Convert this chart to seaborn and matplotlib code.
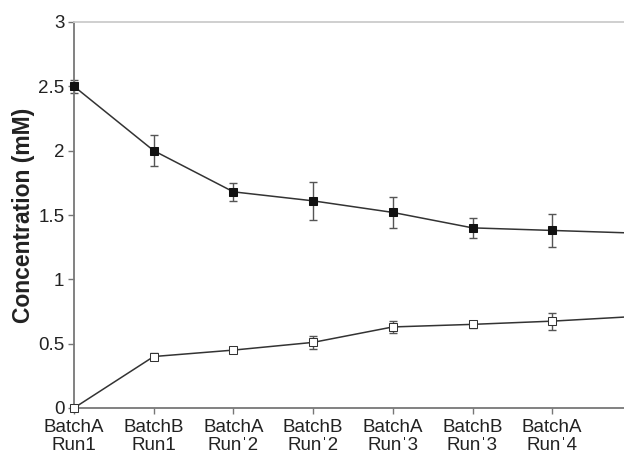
import numpy as np
import pandas as pd
import matplotlib
matplotlib.use("Agg")
import matplotlib.pyplot as plt
import seaborn as sns

# values (mM)
runs = ["BatchA\nRun1", "BatchB\nRun1", "BatchA\nRunˈ2", "BatchB\nRunˈ2",
        "BatchA\nRunˈ3", "BatchB\nRunˈ3", "BatchA\nRunˈ4", "BatchB\nRunˈ4"]
upper = [2.50, 2.00, 1.68, 1.61, 1.52, 1.40, 1.38, 1.36]
upper_err = [0.05, 0.12, 0.07, 0.15, 0.12, 0.08, 0.125, 0.10]
lower = [0.00, 0.40, 0.45, 0.51, 0.63, 0.65, 0.675, 0.71]
lower_err = [0.0, 0.03, 0.015, 0.05, 0.05, 0.03, 0.065, 0.05]

sns.set_style("white")
plt.rcParams['font.family'] = ['Liberation Sans', 'DejaVu Sans']

df = pd.DataFrame({"pos": np.arange(len(runs)), "upper": upper, "lower": lower})

fig = plt.figure(figsize=(6.24, 4.57), dpi=100)
ax = fig.add_axes([74 / 624, 49 / 457, 1 - 74 / 624, 386 / 457])

# error bars first so the markers sit on top
ax.errorbar(df["pos"], df["upper"], yerr=upper_err, fmt="none", ecolor="#555555",
            elinewidth=1, capsize=2.8, capthick=1, clip_on=False, zorder=2)
ax.errorbar(df["pos"], df["lower"], yerr=lower_err, fmt="none", ecolor="#555555",
            elinewidth=1, capsize=2.8, capthick=1, clip_on=False, zorder=2)

sns.lineplot(data=df, x="pos", y="upper", ax=ax, color="#333333", linewidth=1.1,
             marker="s", markersize=5.2, markerfacecolor="#111111",
             markeredgecolor="#111111", clip_on=False, zorder=3)
sns.lineplot(data=df, x="pos", y="lower", ax=ax, color="#333333", linewidth=1.1,
             marker="s", markersize=5.2, markerfacecolor="white",
             markeredgecolor="#333333", clip_on=False, zorder=3)

ax.set_xlim(0, 550 / 79.7)
ax.set_ylim(0, 3)
ax.set_yticks([0, 0.5, 1, 1.5, 2, 2.5, 3])
ax.set_yticklabels(["0", "0.5", "1", "1.5", "2", "2.5", "3"])
ax.set_xticks(df["pos"][:7])
ax.set_xticklabels(runs[:7], linespacing=1.1)
ax.tick_params(axis="both", labelsize=13.5, length=4, width=1,
               direction="out", left=True, bottom=True, pad=4)
ax.tick_params(axis="x", colors="#777777", labelcolor="#222222")
ax.tick_params(axis="y", colors="#777777", labelcolor="#222222", pad=3)

ax.set_xlabel("")
ax.set_ylabel("Concentration (mM)", fontsize=16.5, fontweight="bold",
              color="#222222", labelpad=2)

for side in ["left", "bottom"]:
    ax.spines[side].set_color("#777777")
    ax.spines[side].set_linewidth(1.3)
ax.spines["top"].set_color("#cccccc")
ax.spines["top"].set_linewidth(1.3)
ax.spines["right"].set_visible(False)

fig.savefig("out.png", dpi=100)
